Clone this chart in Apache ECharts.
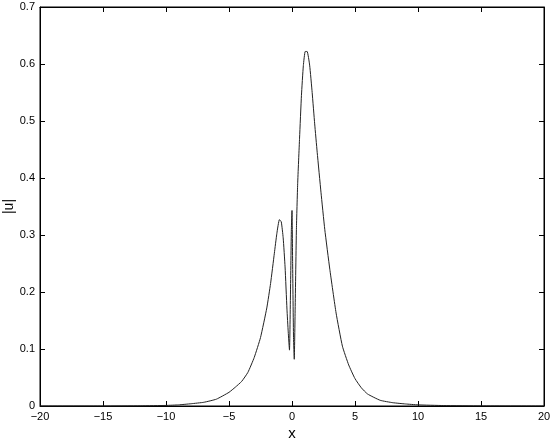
<!DOCTYPE html>
<html>
<head>
<meta charset="utf-8">
<script src="https://cdn.jsdelivr.net/npm/echarts@6/dist/echarts.min.js"></script>
<style>
  html, body { margin: 0; padding: 0; background: #fff; }
  #chart { width: 554px; height: 442px; }
</style>
</head>
<body>
<div id="chart"></div>
<script>
// values
const xs = [-20, -15, -12, -10, -9, -8, -7, -6, -5, -4.5, -4, -3.5, -3, -2.5, -2, -1.7, -1.4, -1.2, -1.0, -0.85,
  -0.7, -0.55, -0.4, -0.3, -0.2, -0.12, -0.05, 0, 0.05, 0.12, 0.18, 0.25, 0.35, 0.45, 0.6, 0.75, 0.9, 1.05,
  1.2, 1.4, 1.6, 1.8, 2.0, 2.3, 2.6, 3.0, 3.5, 4.0, 4.5, 5.0, 5.5, 6, 7, 8, 9, 10, 12, 15, 20];
const amp = [0, 0, 0.0003, 0.001, 0.002, 0.004, 0.0065, 0.012, 0.024, 0.033, 0.043, 0.059, 0.085, 0.12, 0.172, 0.215,
  0.268, 0.303, 0.327, 0.323, 0.295, 0.244, 0.17, 0.13, 0.098, 0.2, 0.31, 0.343, 0.25, 0.12, 0.082, 0.17, 0.31,
  0.39, 0.47, 0.545, 0.597, 0.622, 0.622, 0.598, 0.55, 0.495, 0.445, 0.375, 0.31, 0.24, 0.163, 0.105, 0.072, 0.048,
  0.032, 0.021, 0.01, 0.0058, 0.0036, 0.002, 0.0008, 0.0002, 0];
const xTicks = [-20, 20, 5];
const yTicks = [0, 0.7, 0.1];

const chart = echarts.init(document.getElementById('chart'));
const font = '"Liberation Sans", Arial, Helvetica, sans-serif';
const lineStyle = { color: '#000', width: 1 };

const option = {
  animation: false,
  grid: { left: 40, right: 10, top: 7, bottom: 36, show: true, borderColor: '#000', borderWidth: 1,
    outerBoundsMode: 'none', containLabel: false },
  xAxis: [
    {
      type: 'value', min: xTicks[0], max: xTicks[1], interval: xTicks[2],
      name: 'x', nameLocation: 'middle', nameGap: 20, nameMoveOverlap: false,
      nameTextStyle: { fontFamily: font, fontSize: 15, color: '#000' },
      axisLine: { onZero: false, lineStyle }, axisTick: { inside: true, length: 5, lineStyle },
      axisLabel: { fontFamily: font, fontSize: 11, color: '#000', margin: 5,
        formatter: v => String(v).replace('-', '\u2212') },
      splitLine: { show: false }
    },
    {
      type: 'value', position: 'top', min: xTicks[0], max: xTicks[1], interval: xTicks[2],
      axisLine: { onZero: false, lineStyle }, axisTick: { inside: true, length: 5, lineStyle },
      axisLabel: { show: false }, splitLine: { show: false }
    }
  ],
  yAxis: [
    {
      type: 'value', min: yTicks[0], max: yTicks[1], interval: yTicks[2],
      name: '|u|', nameLocation: 'middle', nameGap: 24, nameMoveOverlap: false,
      nameTextStyle: { fontFamily: font, fontSize: 14, color: '#000' },
      axisLine: { onZero: false, lineStyle }, axisTick: { inside: true, length: 5, lineStyle },
      axisLabel: { fontFamily: font, fontSize: 11, color: '#000', margin: 5,
        formatter: v => (v === 0 ? '0' : v.toFixed(1)) },
      splitLine: { show: false }
    },
    {
      type: 'value', position: 'right', min: yTicks[0], max: yTicks[1], interval: yTicks[2],
      axisLine: { onZero: false, lineStyle }, axisTick: { inside: true, length: 5, lineStyle },
      axisLabel: { show: false }, splitLine: { show: false }
    }
  ],
  series: [
    {
      type: 'line',
      data: xs.map((x, i) => [x, amp[i]]),
      showSymbol: false,
      symbol: 'none',
      smooth: 0.15,
      lineStyle: { color: '#222', width: 1 }
    }
  ]
};

chart.setOption(option);
</script>
</body>
</html>
